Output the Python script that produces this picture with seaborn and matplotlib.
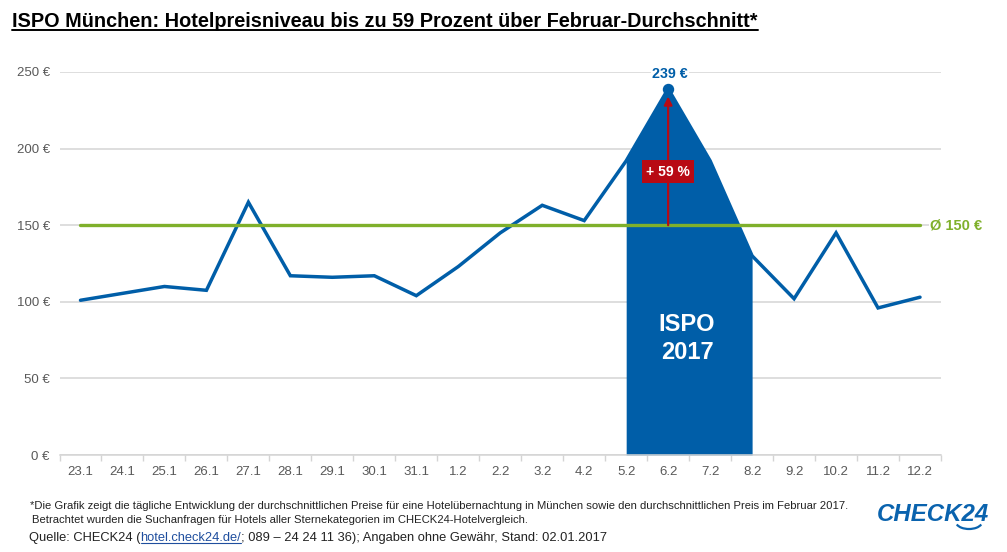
import matplotlib
matplotlib.use("Agg")
import matplotlib.pyplot as plt
import seaborn as sns
import pandas as pd
from matplotlib.lines import Line2D
from matplotlib.patches import Arc

days = ["23.1","24.1","25.1","26.1","27.1","28.1","29.1","30.1","31.1","1.2","2.2","3.2","4.2","5.2","6.2","7.2","8.2","9.2","10.2","11.2","12.2"]
prices = [101,105.5,110,107.5,165,117,116,117,104,123,145,163,153,192,239,192,130,102,145,96,103]
average = 150
event_days = ["5.2","6.2","7.2","8.2"]
yticks = [0,50,100,150,200,250]

BLUE = "#005EA8"; GREEN = "#7FB02B"; RED = "#B80A14"; GRID = "#D4D4D4"; TXT = "#595959"

sns.set_theme(style="white")
plt.rcParams["font.family"] = ["Liberation Sans", "DejaVu Sans"]
W, H = 1007, 552
fig = plt.figure(figsize=(W/100, H/100), dpi=100, facecolor="white")
ax = fig.add_axes([59.5/W, 1-455/H, 881.5/W, 383/H])

df = pd.DataFrame({"day": days, "price": prices, "x": range(len(days))})
ev = df[df.day.isin(event_days)]
ax.fill_between(ev.x, 0, ev.price, color=BLUE, lw=0, zorder=2)
sns.lineplot(data=df, x="x", y="price", color=BLUE, lw=2.5, ax=ax, zorder=3, solid_joinstyle="miter")
ax.plot([0, len(days)-1], [average, average], color=GREEN, lw=2.4, zorder=4, solid_capstyle="round")
peak = df.loc[df.price.idxmax()]
ax.plot([peak.x], [peak.price], "o", color=BLUE, ms=7.2, zorder=6)
ax.annotate("", xy=(peak.x, peak.price-5), xytext=(peak.x, average),
            arrowprops=dict(arrowstyle="-|>", color=RED, lw=1.6, mutation_scale=12, shrinkA=0, shrinkB=0), zorder=5)
ax.text(peak.x, 185, "+ 59 %", color="white", fontsize=10, fontweight="bold", ha="center", va="center", zorder=7,
        bbox=dict(boxstyle="square,pad=0.3", fc=RED, ec="none"))
ax.text(peak.x+0.05, 249, f"{peak.price:.0f} €", color=BLUE, fontsize=10.3, fontweight="bold", ha="center", va="center", zorder=7,
        bbox=dict(boxstyle="square,pad=0.1", fc="white", ec="none"))
ax.text(len(days)-1+0.24, average, f"Ø {average} €", color=GREEN, fontsize=10.5, fontweight="bold", ha="left", va="center", zorder=7,
        bbox=dict(boxstyle="square,pad=0.1", fc="white", ec="none"))
ax.text(14.45, 76, "ISPO\n2017", color="white", fontsize=17, fontweight="bold", ha="center", va="center", zorder=7, linespacing=1.25)

ax.set_xlim(-0.5, len(days)-0.5)
ax.set_ylim(0, 250)
ax.set_xticks(range(len(days)), days)
ax.set_yticks(yticks, [f"{v} €" for v in yticks])
ax.set_xticks([i-0.5 for i in range(len(days)+1)], minor=True)
ax.set_xlabel(""); ax.set_ylabel("")
ax.grid(axis="y", color=GRID, lw=1.1, zorder=0); ax.set_axisbelow(True)
for s in ["top","right","left"]:
    ax.spines[s].set_visible(False)
ax.spines["bottom"].set_color(GRID); ax.spines["bottom"].set_linewidth(1.1)
ax.tick_params(axis="x", which="major", length=0, pad=8, labelsize=9.5, labelcolor=TXT)
ax.tick_params(axis="x", which="minor", length=4, width=1, color=GRID, bottom=True)
ax.tick_params(axis="y", length=0, pad=7, labelsize=9.5, labelcolor=TXT)

def px(x, y, s, **kw):
    return fig.text(x/W, 1-y/H, s, va="baseline", **kw)

def underline(t, y, color, lw):
    fig.canvas.draw()
    bb = t.get_window_extent()
    fig.add_artist(Line2D([bb.x0/W, bb.x1/W], [1-y/H, 1-y/H], color=color, lw=lw, transform=fig.transFigure))

title = px(12, 27, "ISPO München: Hotelpreisniveau bis zu 59 Prozent über Februar-Durchschnitt*", fontsize=14.3, fontweight="bold", color="black")
underline(title, 30, "black", 1.4)
px(30, 509, "*Die Grafik zeigt die tägliche Entwicklung der durchschnittlichen Preise für eine Hotelübernachtung in München sowie den durchschnittlichen Preis im Februar 2017.", fontsize=8.15, color="#222222")
px(32, 523, "Betrachtet wurden die Suchanfragen für Hotels aller Sternekategorien im CHECK24-Hotelvergleich.", fontsize=8.15, color="#222222")
q = px(29, 541, "Quelle: CHECK24 (", fontsize=9.3, color="#222222")
fig.canvas.draw()
x1 = q.get_window_extent().x1
link = px(x1, 541, "hotel.check24.de/", fontsize=9.3, color="#1F4E9E")
underline(link, 543, "#1F4E9E", 0.8)
fig.canvas.draw()
x2 = link.get_window_extent().x1
px(x2, 541, "; 089 – 24 24 11 36); Angaben ohne Gewähr, Stand: 02.01.2017", fontsize=9.3, color="#222222")
px(877, 521, "CHECK24", fontsize=17.3, fontweight="bold", style="italic", color="#0A63AE")
fig.add_artist(Arc((969/W, 1-522/H), 26/W, 14/H, theta1=200, theta2=340, color="#0A63AE", lw=1.6, transform=fig.transFigure))

fig.savefig("out.png", dpi=100)
